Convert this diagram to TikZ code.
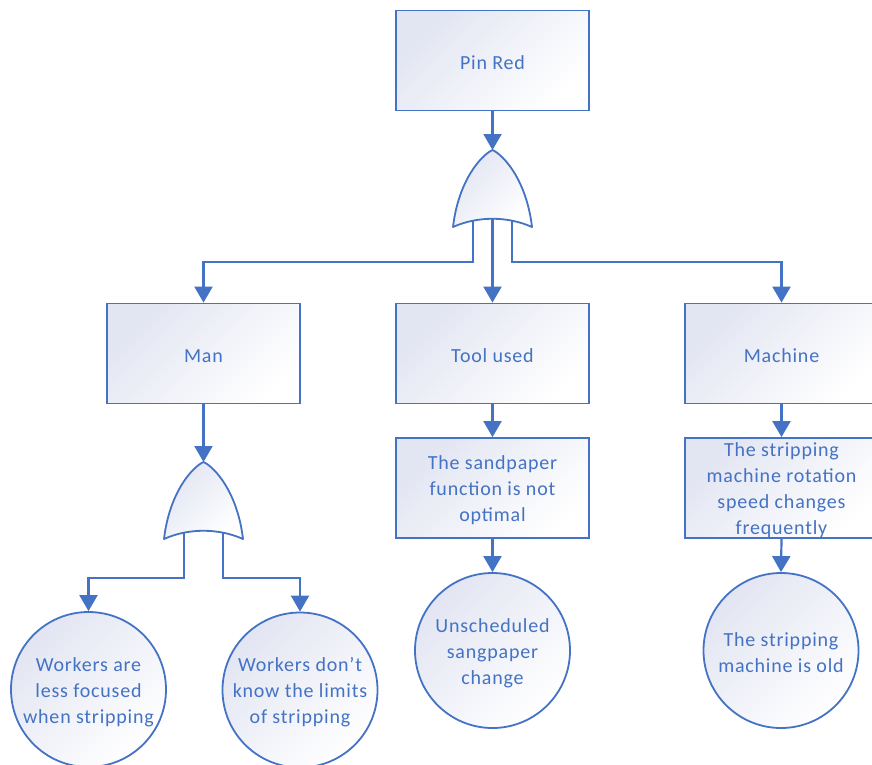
\documentclass[tikz,border=0pt]{standalone}
\usepackage{fontspec}
\setmainfont{Carlito}[LetterSpace=4]
\usetikzlibrary{arrows.meta,calc}
\definecolor{lineblue}{HTML}{4472C4}
\definecolor{shadetop}{RGB}{226,229,242}

\tikzset{
  x=1pt, y=-1pt,
  softfill/.style={shading=axis, top color=shadetop, bottom color=white, shading angle=45},
  caption/.style={align=center, text=lineblue, font=\fontsize{20}{26}\selectfont,
    inner sep=0pt, yshift=-2.5pt},
  say/.style={label={[caption]center:{#1}}},
  event/.style={softfill, draw=lineblue, line width=1.8pt, minimum width=193pt,
    minimum height=100pt, inner sep=0pt},
  basic/.style={softfill, draw=lineblue, line width=1.8pt, circle, minimum size=155pt,
    inner sep=0pt},
  link/.style={draw=lineblue, line width=2.2pt},
  flow/.style={link, -{Triangle[length=16pt,width=18pt]}},
  orgate/.pic={
    \path[softfill, draw=lineblue, line width=1.8pt, line join=round]
      (0,0) .. controls (-11,5) and (-34,30) .. (-39.5,77)
            .. controls (-15,66) and (15,66) .. (39.5,77)
            .. controls (34,30) and (11,5) .. (0,0) -- cycle;
    \coordinate (-in) at (0,0);
    \coordinate (-ol) at (-19.5,70.6);
    \coordinate (-oc) at (0,68.8);
    \coordinate (-or) at (19.5,70.6);
  }
}

\begin{document}
\begin{tikzpicture}
\useasboundingbox (0,0) rectangle (872,764);

% top event
\node[event, say={Pin Red}] (top) at (492.5,60.5) {};
\pic (g1) at (492.5,150) {orgate};

% intermediate events
\node[event, say={Man}] (man) at (203.5,353.5) {};
\node[event, say={Tool used}] (tool) at (492.5,353.5) {};
\node[event, say={Machine}] (mach) at (781.5,353.5) {};

\node[event, say={The sandpaper\\function is not\\optimal}] (sand) at (492.5,488) {};
\node[event, say={The stripping\\machine rotation\\speed changes\\frequently}] (speed) at (781.5,488) {};

\pic (g2) at (203.5,462) {orgate};

% basic events
\node[basic, say={Workers are\\less focused\\when stripping}] (focus) at (88.5,689.5) {};
\node[basic, say={Workers don’t\\know the limits\\of stripping}] (limit) at (300,690) {};
\node[basic, say={Unscheduled\\sangpaper\\change}] (change) at (492.5,650.5) {};
\node[basic, say={The stripping\\machine is old}] (old) at (781,650.5) {};

% bus levels below the gates
\coordinate (bus1) at (492.5,262);
\coordinate (bus2) at (203.5,578);

% connectors
\draw[flow] (top.south) -- (g1-in);
\draw[flow] (g1-ol) |- (man.north |- bus1) -- (man.north);
\draw[flow] (g1-oc) -- (tool.north);
\draw[flow] (g1-or) |- (mach.north |- bus1) -- (mach.north);

\draw[flow] (man.south) -- (g2-in);
\draw[flow] (g2-ol) |- (focus.north |- bus2) -- (focus.north);
\draw[flow] (g2-or) |- (limit.north |- bus2) -- (limit.north);

\draw[flow] (tool.south) -- (sand.north);
\draw[flow] (sand.south) -- (change.north);
\draw[flow] (mach.south) -- (speed.north);
\draw[flow] (speed.south) -- (old.north);
\end{tikzpicture}
\end{document}
